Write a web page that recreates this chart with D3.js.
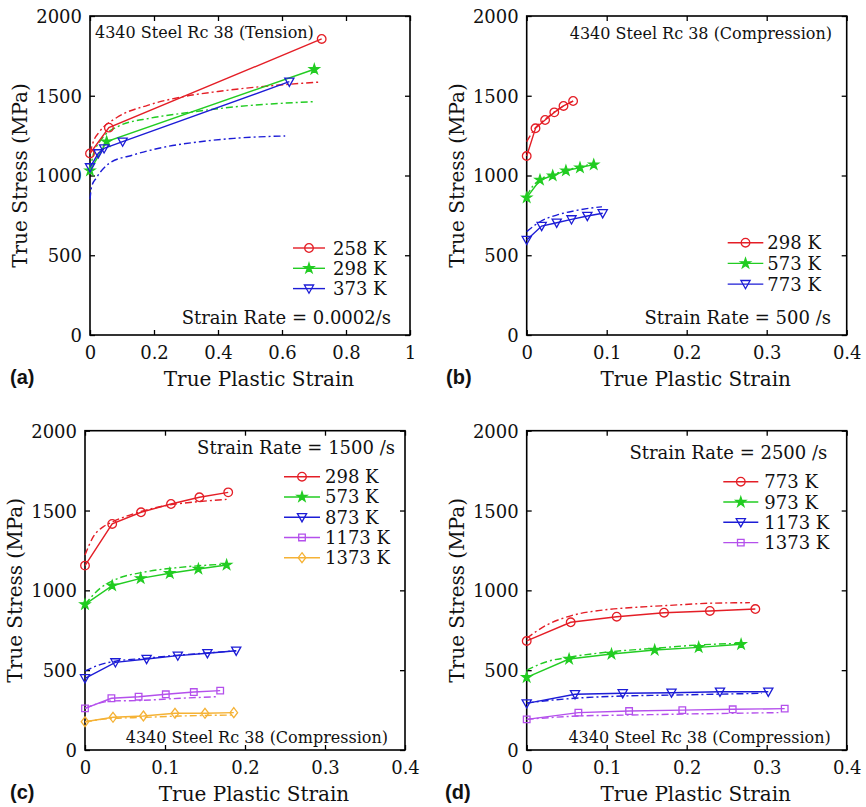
<!DOCTYPE html>
<html><head><meta charset="utf-8">
<script src="https://cdn.jsdelivr.net/npm/d3@7"></script>
<style>body{margin:0;background:#fff}svg{display:block}</style>
</head><body><svg id="c" width="866" height="807"></svg>
<script>
// ---------- DATA ----------
const yTicks = [0, 500, 1000, 1500, 2000];
const xTicksA = [0, 0.2, 0.4, 0.6, 0.8, 1];
const xTicksBCD = [0, 0.1, 0.2, 0.3, 0.4];

// Panel (a): tension, 0.0002/s
const aLabels = ["258 K", "298 K", "373 K"];
const aExp258 = [[0,1138],[0.059,1300],[0.724,1856]];
const aExp298 = [[0,1030],[0.052,1212],[0.701,1666]];
const aExp373 = [[0,1051],[0.026,1139],[0.044,1170],[0.102,1212],[0.623,1588]];
const aMod258 = [[0,1140],[0.01,1210],[0.03,1275],[0.085,1365],[0.18,1440],[0.28,1490],[0.4,1527],[0.55,1560],[0.72,1586]];
const aMod298 = [[0,1030],[0.01,1130],[0.03,1210],[0.09,1310],[0.19,1360],[0.29,1390],[0.45,1430],[0.7,1463]];
const aMod373 = [[0,850],[0.005,930],[0.02,985],[0.06,1076],[0.135,1129],[0.24,1181],[0.344,1212],[0.45,1233],[0.61,1248]];

// Panel (b): compression, 500/s
const bLabels = ["298 K", "573 K", "773 K"];
const bExp298 = [[0,1122],[0.011,1296],[0.023,1348],[0.0345,1396],[0.046,1436],[0.058,1467]];
const bExp573 = [[0,861],[0.0166,972],[0.0325,999],[0.049,1030],[0.0666,1049],[0.0838,1068]];
const bExp773 = [[0,596],[0.0187,683],[0.0375,704],[0.056,725],[0.0758,746],[0.095,763]];
const bMod298 = [[0,1212],[0.005,1255],[0.011,1300],[0.023,1352],[0.0345,1398],[0.046,1436],[0.058,1467]];
const bMod573 = [[0,870],[0.005,915],[0.0166,975],[0.0325,1005],[0.049,1033],[0.0666,1054],[0.0838,1075]];
const bMod773 = [[0,648],[0.0166,710],[0.0375,752],[0.058,777],[0.075,792],[0.094,804]];

// Panel (c): compression, 1500/s
const cLabels = ["298 K", "573 K", "873 K", "1173 K", "1373 K"];
const cExp298 = [[0,1155],[0.034,1416],[0.07,1489],[0.1075,1541],[0.143,1583],[0.179,1614]];
const cExp573 = [[0,912],[0.034,1029],[0.0696,1075],[0.106,1107],[0.1417,1134],[0.177,1159]];
const cExp873 = [[0,449],[0.038,549],[0.077,570],[0.116,591],[0.153,606],[0.189,622]];
const cExp1173 = [[0,261],[0.033,324],[0.067,334],[0.101,349],[0.136,363],[0.169,372]];
const cExp1373 = [[0,177],[0.035,205],[0.073,213],[0.1125,230],[0.15,230],[0.186,234]];
const cMod298 = [[0,1221],[0.0104,1336],[0.023,1399],[0.035,1430],[0.069,1493],[0.106,1535],[0.14,1555],[0.177,1570]];
const cMod573 = [[0,912],[0.019,1013],[0.035,1061],[0.077,1117],[0.119,1144],[0.177,1165]];
const cMod873 = [[0,495],[0.019,535],[0.038,556],[0.077,575],[0.116,594],[0.153,608],[0.189,622]];
const cMod1173 = [[0,261],[0.033,307],[0.067,310],[0.119,324],[0.165,334]];
const cMod1373 = [[0,177],[0.035,198],[0.073,204],[0.119,213],[0.185,219]];

// Panel (d): compression, 2500/s
const dLabels = ["773 K", "973 K", "1173 K", "1373 K"];
const dExp773 = [[0,683],[0.055,800],[0.1125,835],[0.1717,860],[0.229,871],[0.2858,883]];
const dExp973 = [[0,455],[0.053,570],[0.106,601],[0.16,626],[0.215,643],[0.268,662]];
const dExp1173 = [[0,292],[0.0604,349],[0.12,355],[0.181,359],[0.2416,365],[0.302,365]];
const dExp1373 = [[0,192],[0.0646,234],[0.128,244],[0.1945,250],[0.2575,255],[0.3225,259]];
const dMod773 = [[0,700],[0.025,783],[0.054,839],[0.096,877],[0.1375,894],[0.179,906],[0.227,919],[0.279,923]];
const dMod973 = [[0,501],[0.025,553],[0.053,581],[0.106,616],[0.16,637],[0.215,658],[0.27,668]];
const dMod1173 = [[0,295],[0.033,313],[0.06,324],[0.12,338],[0.181,344],[0.294,355]];
const dMod1373 = [[0,192],[0.0646,213],[0.128,219],[0.1945,225],[0.3146,234]];

// ---------- STYLE ----------
const RED = "#e41e26", GREEN = "#22cc22", BLUE = "#1c1cd6", PURPLE = "#b450ec", ORANGE = "#f5b235";
const SERIF = "'DejaVu Serif', serif";

const svg = d3.select("#c");

function markerPath(type) {
  switch (type) {
    case "circle": return d3.symbol(d3.symbolCircle, 58)();
    case "star": return d3.symbol(d3.symbolStar, 30)();
    case "tri": return "M-4.6,-3.6L4.6,-3.6L0,4.6Z";
    case "square": return "M-3.3,-3.3L3.3,-3.3L3.3,3.3L-3.3,3.3Z";
    case "diamond": return "M0,-5L3.8,0L0,5L-3.8,0Z";
  }
}
function drawMarker(g, x, y, s) {
  const filled = s.marker === "star";
  g.append("path").attr("d", markerPath(s.marker))
    .attr("transform", `translate(${x},${y})`)
    .attr("fill", filled ? s.color : "none")
    .attr("stroke", s.color).attr("stroke-width", 1.3);
}

function panel(cfg) {
  const x = d3.scaleLinear().domain(cfg.xDomain).range([cfg.left, cfg.right]);
  const y = d3.scaleLinear().domain([0, 2000]).range([cfg.bottom, cfg.top]);
  const g = svg.append("g");
  const tickLen = 5;
  const axB = d3.axisBottom(x).tickValues(cfg.xTicks).tickSize(-tickLen).tickFormat(d => String(d));
  const axT = d3.axisTop(x).tickValues(cfg.xTicks).tickSize(-tickLen).tickFormat("");
  const axL = d3.axisLeft(y).tickValues(yTicks).tickSize(-tickLen).tickFormat(d => String(d));
  const axR = d3.axisRight(y).tickValues(yTicks).tickSize(-tickLen).tickFormat("");
  const gB = g.append("g").attr("transform", `translate(0,${cfg.bottom})`).call(axB);
  const gT = g.append("g").attr("transform", `translate(0,${cfg.top})`).call(axT);
  const gL = g.append("g").attr("transform", `translate(${cfg.left},0)`).call(axL);
  const gR = g.append("g").attr("transform", `translate(${cfg.right},0)`).call(axR);
  [gB, gT, gL, gR].forEach(a => {
    a.select(".domain").remove();
    a.selectAll(".tick line").attr("stroke", "#000").attr("stroke-width", 1.3);
    a.selectAll("text").attr("font-family", SERIF).attr("font-size", 18).attr("fill", "#111");
  });
  gB.selectAll("text").attr("y", 0).attr("dy", 0).attr("transform", "translate(0,24)");
  gL.selectAll("text").attr("x", -8).attr("dy", "0.36em");
  g.append("rect").attr("x", cfg.left).attr("y", cfg.top)
    .attr("width", cfg.right - cfg.left).attr("height", cfg.bottom - cfg.top)
    .attr("fill", "none").attr("stroke", "#000").attr("stroke-width", 1.6);

  const line = d3.line().x(d => x(d[0])).y(d => y(d[1]));
  const smooth = d3.line().x(d => x(d[0])).y(d => y(d[1])).curve(d3.curveMonotoneX);
  cfg.series.forEach(s => {
    g.append("path").attr("d", smooth(s.model)).attr("fill", "none")
      .attr("stroke", s.color).attr("stroke-width", 1.4).attr("stroke-dasharray", "7,3,2,3");
  });
  cfg.series.forEach(s => {
    g.append("path").attr("d", line(s.exp)).attr("fill", "none")
      .attr("stroke", s.color).attr("stroke-width", 1.4);
    s.exp.forEach(p => drawMarker(g, x(p[0]), y(p[1]), s));
  });

  cfg.series.forEach((s, i) => {
    const ly = cfg.legY + i * cfg.legStep;
    g.append("line").attr("x1", cfg.legX1).attr("x2", cfg.legX2).attr("y1", ly).attr("y2", ly)
      .attr("stroke", s.color).attr("stroke-width", 1.4);
    drawMarker(g, (cfg.legX1 + cfg.legX2) / 2, ly, s);
    g.append("text").attr("x", cfg.legText).attr("y", ly + 6.5).text(s.label)
      .attr("font-family", SERIF).attr("font-size", 18).attr("fill", "#111");
  });
  cfg.notes.forEach(n => {
    g.append("text").attr("x", n.x).attr("y", n.y).attr("text-anchor", n.anchor)
      .attr("font-family", SERIF).attr("font-size", n.size).attr("fill", "#111").text(n.text);
  });
  const cx = (cfg.left + cfg.right) / 2 + 9;
  g.append("text").attr("x", cx).attr("y", cfg.bottom + 51).attr("text-anchor", "middle")
    .attr("font-family", SERIF).attr("font-size", 20).attr("fill", "#111").text("True Plastic Strain");
  const cy = (cfg.top + cfg.bottom) / 2;
  g.append("text").attr("transform", `translate(${cfg.left - 63},${cy}) rotate(-90)`)
    .attr("text-anchor", "middle").attr("font-family", SERIF).attr("font-size", 20)
    .attr("fill", "#111").text("True Stress (MPa)");
  g.append("text").attr("x", cfg.tagX).attr("y", cfg.bottom + 49)
    .attr("font-family", "'Liberation Sans', Arial, sans-serif").attr("font-weight", "bold")
    .attr("font-size", 20).attr("fill", "#111").text(cfg.tag);
}

panel({
  tag: "(a)", tagX: 10, left: 90, right: 410, top: 16, bottom: 335, xDomain: [0, 1], xTicks: xTicksA,
  series: [
    {label: aLabels[0], color: RED, marker: "circle", exp: aExp258, model: aMod258},
    {label: aLabels[1], color: GREEN, marker: "star", exp: aExp298, model: aMod298},
    {label: aLabels[2], color: BLUE, marker: "tri", exp: aExp373, model: aMod373}],
  legX1: 293, legX2: 325, legText: 333, legY: 248, legStep: 20.3,
  notes: [
    {text: "4340 Steel Rc 38 (Tension)", x: 95, y: 38, anchor: "start", size: 16},
    {text: "Strain Rate = 0.0002/s", x: 391, y: 324, anchor: "end", size: 18}]
});
panel({
  tag: "(b)", tagX: 446, left: 526.7, right: 846.7, top: 16, bottom: 335, xDomain: [0, 0.4], xTicks: xTicksBCD,
  series: [
    {label: bLabels[0], color: RED, marker: "circle", exp: bExp298, model: bMod298},
    {label: bLabels[1], color: GREEN, marker: "star", exp: bExp573, model: bMod573},
    {label: bLabels[2], color: BLUE, marker: "tri", exp: bExp773, model: bMod773}],
  legX1: 727.7, legX2: 763.3, legText: 767.3, legY: 242.7, legStep: 20.7,
  notes: [
    {text: "4340 Steel Rc 38 (Compression)", x: 832, y: 39, anchor: "end", size: 16},
    {text: "Strain Rate = 500 /s", x: 831, y: 324, anchor: "end", size: 18}]
});
panel({
  tag: "(c)", tagX: 10, left: 85, right: 405, top: 430.7, bottom: 750, xDomain: [0, 0.4], xTicks: xTicksBCD,
  series: [
    {label: cLabels[0], color: RED, marker: "circle", exp: cExp298, model: cMod298},
    {label: cLabels[1], color: GREEN, marker: "star", exp: cExp573, model: cMod573},
    {label: cLabels[2], color: BLUE, marker: "tri", exp: cExp873, model: cMod873},
    {label: cLabels[3], color: PURPLE, marker: "square", exp: cExp1173, model: cMod1173},
    {label: cLabels[4], color: ORANGE, marker: "diamond", exp: cExp1373, model: cMod1373}],
  legX1: 284, legX2: 320, legText: 325, legY: 476.7, legStep: 20.25,
  notes: [
    {text: "Strain Rate = 1500 /s", x: 395, y: 454, anchor: "end", size: 18},
    {text: "4340 Steel Rc 38 (Compression)", x: 388, y: 743, anchor: "end", size: 16}]
});
panel({
  tag: "(d)", tagX: 445, left: 526.7, right: 846.7, top: 430.7, bottom: 750, xDomain: [0, 0.4], xTicks: xTicksBCD,
  series: [
    {label: dLabels[0], color: RED, marker: "circle", exp: dExp773, model: dMod773},
    {label: dLabels[1], color: GREEN, marker: "star", exp: dExp973, model: dMod973},
    {label: dLabels[2], color: BLUE, marker: "tri", exp: dExp1173, model: dMod1173},
    {label: dLabels[3], color: PURPLE, marker: "square", exp: dExp1373, model: dMod1373}],
  legX1: 723.3, legX2: 758.3, legText: 764.3, legY: 481.7, legStep: 20.3,
  notes: [
    {text: "Strain Rate = 2500 /s", x: 827.3, y: 459.3, anchor: "end", size: 18},
    {text: "4340 Steel Rc 38 (Compression)", x: 830.7, y: 743, anchor: "end", size: 16}]
});
</script></body></html>
